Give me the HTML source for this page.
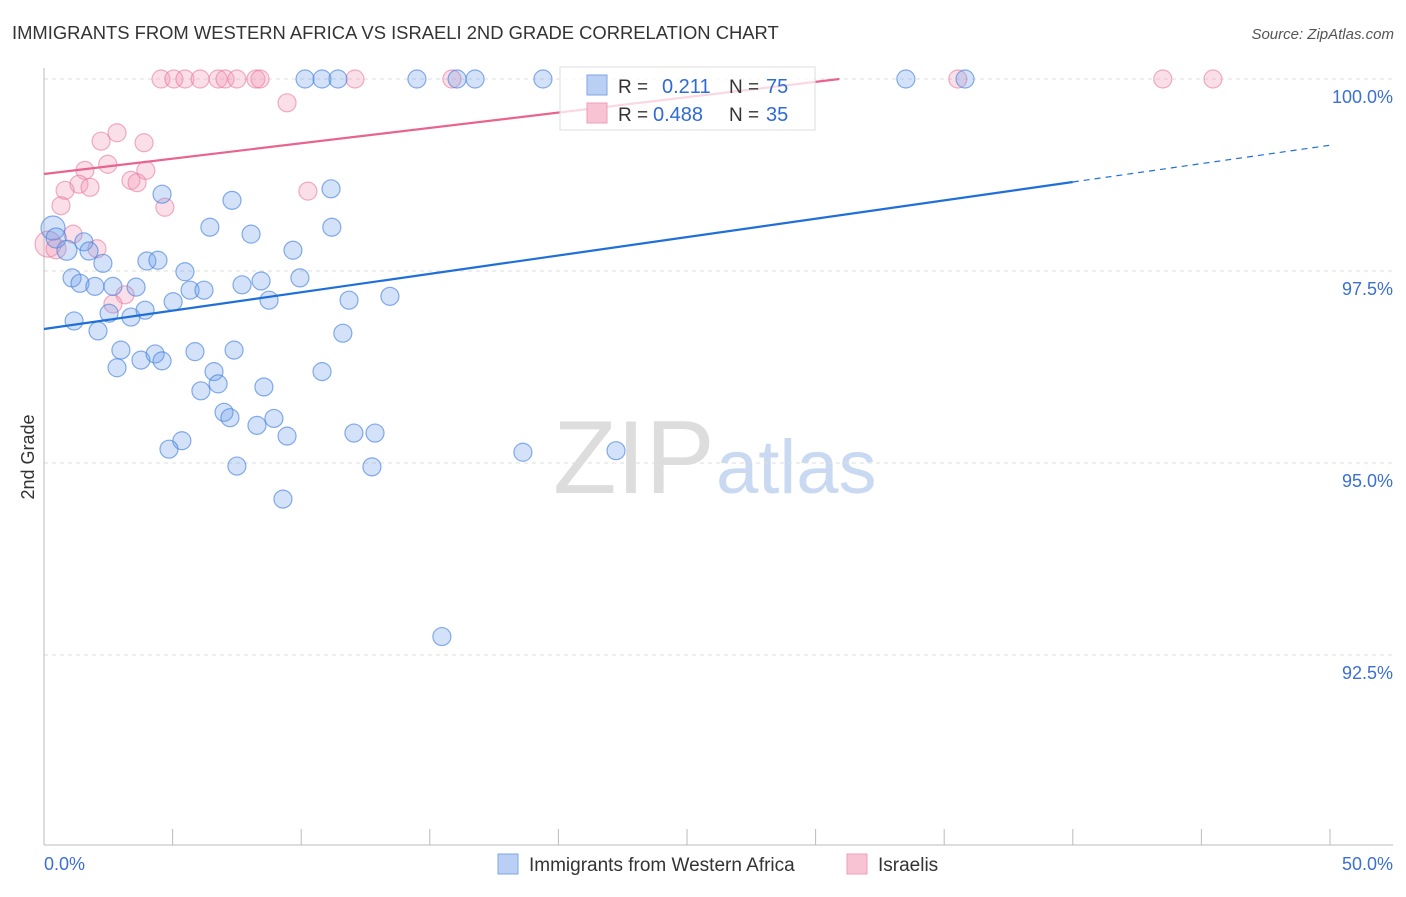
<!DOCTYPE html>
<html><head><meta charset="utf-8"><style>
body{margin:0;background:#fff;font-family:"Liberation Sans",sans-serif;}
svg text{font-family:"Liberation Sans",sans-serif;}
</style></head><body>
<svg id="chart" width="1406" height="892">
<text x="12" y="39" font-size="18.4" fill="#333">IMMIGRANTS FROM WESTERN AFRICA VS ISRAELI 2ND GRADE CORRELATION CHART</text>
<text x="1394" y="39" font-size="15" fill="#555" font-style="italic" text-anchor="end">Source: ZipAtlas.com</text>
<text x="34" y="457" font-size="18" fill="#333" text-anchor="middle" transform="rotate(-90 34 457)">2nd Grade</text>
<g>
<text x="553" y="493" font-size="104" fill="#ddd" font-family="Liberation Serif">ZIP</text>
<text x="716" y="493" font-size="76" fill="#c9d9f2">atlas</text>
</g>
<g id="grid"></g><g id="axes"></g><g id="pts"></g><g id="lines"></g>
<g>
<rect x="560" y="67" width="255" height="63" fill="rgba(255,255,255,0.75)" stroke="#ddd"/>
<rect x="587" y="75" width="20" height="20" fill="#b9d0f4" stroke="#7ea6e6"/>
<rect x="587" y="103" width="20" height="20" fill="#f8c4d4" stroke="#ef9db8"/>
<text x="618" y="93" font-size="19" fill="#333">R = </text><text x="662" y="93" font-size="20" fill="#2e6bd4">0.211</text>
<text x="729" y="93" font-size="19" fill="#333">N = </text><text x="766" y="93" font-size="20" fill="#2e6bd4">75</text>
<text x="618" y="121" font-size="19" fill="#333">R = </text><text x="653" y="121" font-size="20" fill="#2e6bd4">0.488</text>
<text x="729" y="121" font-size="19" fill="#333">N = </text><text x="766" y="121" font-size="20" fill="#2e6bd4">35</text>
</g>
<g>
<rect x="498" y="854" width="20" height="20" fill="#b9d0f4" stroke="#7ea6e6"/>
<text x="529" y="871" font-size="19" fill="#333">Immigrants from Western Africa</text>
<rect x="847" y="854" width="20" height="20" fill="#f8c4d4" stroke="#ef9db8"/>
<text x="878" y="871" font-size="19" fill="#333">Israelis</text>
</g>
</svg>
<script>
const yTicks=[100,97.5,95,92.5];
const yTickLabels=["100.0%","97.5%","95.0%","92.5%"];
const xTickLabels=["0.0%","50.0%"];
const blueX=[10.15,10.81,11.43,14.50,16.06,16.76,19.40,33.51,35.81,4.59,7.31,11.16,6.45,8.05,11.19,0.35,0.47,0.89,1.55,1.75,2.29,4.0,4.43,5.48,9.68,1.09,1.40,1.98,2.68,3.58,5.02,5.68,6.22,7.70,8.44,9.95,8.75,11.86,13.45,1.17,2.10,2.53,3.38,3.93,2.99,2.84,3.77,4.32,4.59,5.87,6.61,6.77,6.10,7.39,8.55,7.0,7.23,8.28,8.94,9.45,5.36,4.86,7.50,9.29,11.62,10.81,12.05,12.87,12.75,18.62,22.24,15.47];
const blueY=[100,100,100,100,100,100,100,100,100,98.50,98.42,98.57,98.07,97.98,98.07,98.06,97.93,97.77,97.88,97.76,97.60,97.63,97.64,97.49,97.77,97.41,97.34,97.30,97.30,97.29,97.10,97.25,97.25,97.32,97.37,97.41,97.12,97.12,97.17,96.85,96.72,96.95,96.90,96.99,96.47,96.24,96.34,96.42,96.33,96.45,96.19,96.03,95.94,96.47,95.99,95.66,95.59,95.49,95.58,95.35,95.29,95.18,94.96,94.53,96.69,96.19,95.39,95.39,94.95,95.14,95.16,92.74];
const blueR=[9,9,9,9,9,9,9,9,9,9,9,9,9,9,9,12,10,10,9,9,9,9,9,9,9,9,9,9,9,9,9,9,9,9,9,9,9,9,9,9,9,9,9,9,9,9,9,9,9,9,9,9,9,9,9,9,9,9,9,9,9,9,9,9,9,9,9,9,9,9,9,9];
const pinkX=[4.55,5.05,5.48,6.07,6.77,7.04,7.50,8.24,8.40,12.09,15.86,35.53,43.5,45.45,9.45,2.22,2.84,3.89,2.48,1.59,3.96,1.36,0.82,1.79,3.38,3.62,4.70,0.66,10.26,1.13,2.06,3.15,2.68,0.16,0.47];
const pinkY=[100,100,100,100,100,100,100,100,100,100,100,100,100,100,99.69,99.19,99.30,99.17,98.89,98.81,98.81,98.63,98.55,98.59,98.68,98.65,98.33,98.35,98.54,97.98,97.79,97.19,97.07,97.85,97.79];
const pinkR=[9,9,9,9,9,9,9,9,9,9,9,9,9,9,9,9,9,9,9,9,9,9,9,9,9,9,9,9,9,9,9,9,9,13,10];
const blueTrend=[96.745,0.04785,40,50];
const pinkTrend=[98.763,0.04];
const NS="http://www.w3.org/2000/svg";
const X=v=>44+v/50*1286, Y=v=>79+(100-v)/2.5*192;
function mk(t,a,p){const e=document.createElementNS(NS,t);for(const k in a)e.setAttribute(k,a[k]);p.appendChild(e);return e;}
const grid=document.getElementById('grid'),axes=document.getElementById('axes'),pts=document.getElementById('pts'),lines=document.getElementById('lines');
yTicks.forEach((t,i)=>{
 const l=mk('line',{x1:44,x2:1393,y1:Y(t),y2:Y(t),stroke:'#ddd','stroke-dasharray':'4,4'},grid);
 
 
 const tx=mk('text',{x:1393,y:Y(t)+24,'font-size':18,fill:'#3b6fd0','text-anchor':'end'},axes);
 tx.textContent=yTickLabels[i];
 
 
});
const ya=mk('line',{x1:44,x2:44,y1:68,y2:845,stroke:'#bbb'},axes);


const xa=mk('line',{x1:44,x2:1393,y1:845,y2:845,stroke:'#bbb'},axes);


for(let i=0;i<=10;i++){
 const tk=mk('line',{x1:X(i*5),x2:X(i*5),y1:829,y2:845,stroke:'#bbb'},axes);
 
 
}
const xl0=mk('text',{x:44,y:870,'font-size':18,fill:'#3b6fd0'},axes);xl0.textContent=xTickLabels[0];


const xl1=mk('text',{x:1393,y:870,'font-size':18,fill:'#3b6fd0','text-anchor':'end'},axes);xl1.textContent=xTickLabels[1];


pinkX.forEach((v,i)=>{
 const c=mk('circle',{cx:X(v),cy:Y(pinkY[i]),r:pinkR[i],fill:'rgba(242,150,180,0.3)',stroke:'rgba(232,120,160,0.6)','stroke-width':1.2},pts);
 
 
});
blueX.forEach((v,i)=>{
 const c=mk('circle',{cx:X(v),cy:Y(blueY[i]),r:blueR[i],fill:'rgba(110,160,235,0.3)',stroke:'rgba(70,130,220,0.65)','stroke-width':1.2},pts);
 
 
});
const bf=x=>blueTrend[0]+blueTrend[1]*x;
const bl=mk('line',{x1:X(0),y1:Y(bf(0)),x2:X(blueTrend[2]),y2:Y(bf(blueTrend[2])),stroke:'#1f6fd8','stroke-width':2.2},lines);


const bd=mk('line',{x1:X(blueTrend[2]),y1:Y(bf(blueTrend[2])),x2:X(blueTrend[3]),y2:Y(bf(blueTrend[3])),stroke:'#1f6fd8','stroke-width':1.2,'stroke-dasharray':'6,5'},lines);


const pEnd=(100-pinkTrend[0])/pinkTrend[1];
const pl=mk('line',{x1:X(0),y1:Y(pinkTrend[0]),x2:X(pEnd),y2:Y(100),stroke:'#e8648e','stroke-width':2.2},lines);


</script>
</body></html>
